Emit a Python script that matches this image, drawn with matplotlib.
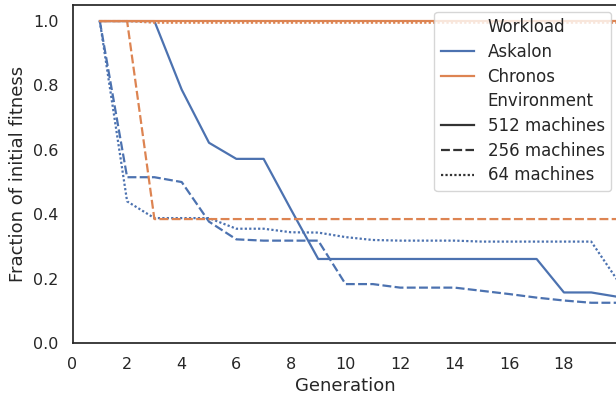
import numpy as np
import matplotlib.pyplot as plt
from matplotlib.lines import Line2D

# data
generation = np.arange(1, 21)
askalon_512 = [1.0, 1.0, 1.0, 0.787, 0.622, 0.572, 0.572, 0.415, 0.261, 0.261,
               0.261, 0.261, 0.261, 0.261, 0.261, 0.261, 0.261, 0.157, 0.157, 0.143]
askalon_256 = [1.0, 0.515, 0.515, 0.50, 0.377, 0.322, 0.318, 0.318, 0.318, 0.183,
               0.183, 0.172, 0.172, 0.172, 0.162, 0.152, 0.141, 0.132, 0.125, 0.125]
askalon_64 = [1.0, 0.44, 0.388, 0.388, 0.388, 0.355, 0.355, 0.344, 0.343, 0.329,
              0.32, 0.318, 0.318, 0.318, 0.315, 0.315, 0.315, 0.315, 0.315, 0.19]
chronos_512 = [1.0] * 20
chronos_256 = [1.0, 1.0] + [0.385] * 18
chronos_64 = [1.0, 1.0] + [0.995] * 18

workloads = ["Askalon", "Chronos"]
environments = ["512 machines", "256 machines", "64 machines"]
series = {
    ("Askalon", "512 machines"): askalon_512,
    ("Askalon", "256 machines"): askalon_256,
    ("Askalon", "64 machines"): askalon_64,
    ("Chronos", "512 machines"): chronos_512,
    ("Chronos", "256 machines"): chronos_256,
    ("Chronos", "64 machines"): chronos_64,
}

colors = {"Askalon": "#4C72B0", "Chronos": "#DD8452"}
dashes = {"512 machines": "", "256 machines": (4, 1.5), "64 machines": (1, 1)}
text_col = "#262626"

plt.rcParams['font.family'] = ['DejaVu Sans']
plt.rcParams['text.color'] = text_col
plt.rcParams['axes.labelcolor'] = text_col
plt.rcParams['xtick.color'] = text_col
plt.rcParams['ytick.color'] = text_col

fig = plt.figure(figsize=(6.16, 4.0), dpi=100)
ax = fig.add_axes([72.5 / 616, 57 / 400, (618 - 72.5) / 616, 338 / 400])

lw = 1.6
for w in workloads:
    for e in environments:
        ax.plot(generation, series[(w, e)], color=colors[w], lw=lw, dashes=dashes[e])

ax.set_xlim(0, 19.98)
ax.set_ylim(0, 1.05)
ax.set_xticks(np.arange(0, 20, 2))
ax.set_yticks([0.0, 0.2, 0.4, 0.6, 0.8, 1.0])
ax.tick_params(length=0, labelsize=11.5, pad=10)
ax.set_xlabel("Generation", fontsize=13, labelpad=3.5)
ax.set_ylabel("Fraction of initial fitness", fontsize=13, labelpad=4.5)
for s in ax.spines.values():
    s.set_color(text_col)
    s.set_linewidth(1.25)

# legend in seaborn style (section headers with empty handles)
blank = Line2D([], [], linestyle="", marker="")
handles = [blank]
labels = ["Workload"]
for w in workloads:
    handles.append(Line2D([], [], color=colors[w], lw=lw))
    labels.append(w)
handles.append(blank)
labels.append("Environment")
for e in environments:
    handles.append(Line2D([], [], color="#333333", lw=lw, dashes=dashes[e]))
    labels.append(e)
leg = ax.legend(handles, labels, loc="upper right", fontsize=12, framealpha=0.8,
                borderaxespad=0.4, labelspacing=0.4)
leg.get_frame().set_edgecolor("0.8")

fig.savefig("out.png", dpi=100)
